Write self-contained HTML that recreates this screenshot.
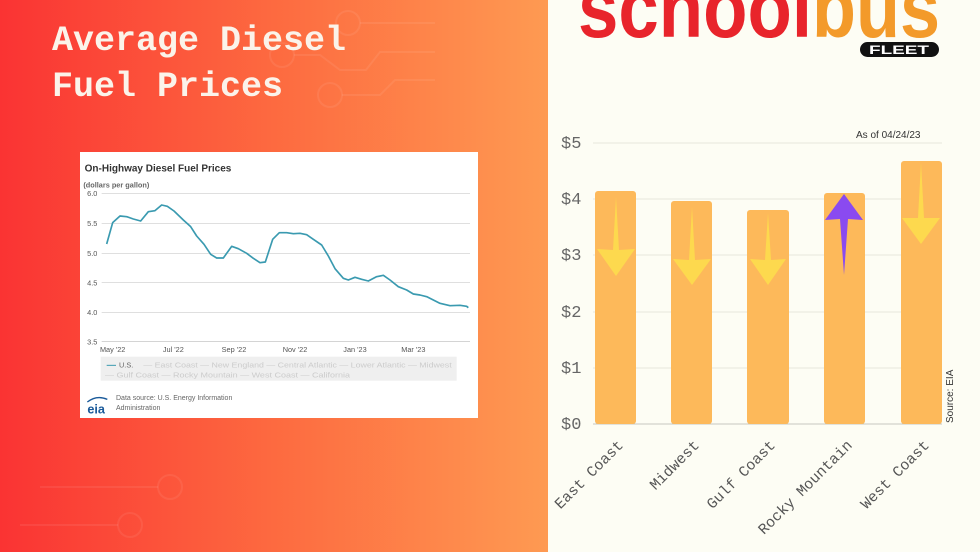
<!DOCTYPE html>
<html><head><meta charset="utf-8"><style>
body{margin:0;width:980px;height:552px;overflow:hidden;position:relative;font-family:"Liberation Sans",sans-serif}
#left{position:absolute;left:0;top:0;width:548px;height:552px;background:linear-gradient(90deg,#fa3333 0%,#fd6a40 50%,#fe9a52 100%)}
#right{position:absolute;left:548px;top:0;width:432px;height:552px;background:#fdfdf4}
</style></head><body>
<div id="left"></div><div id="right"></div>
<svg width="980" height="552" style="position:absolute;left:0;top:0">
<g stroke="#ffffff" stroke-opacity="0.07" stroke-width="2" fill="none">
<circle cx="348" cy="23" r="12"/><path d="M360 23H435"/>
<circle cx="282" cy="55" r="12"/><path d="M294 55H320L340 70H366L380 52H435"/>
<circle cx="330" cy="95" r="12"/><path d="M342 95H380L395 80H435"/>
<circle cx="170" cy="487" r="12"/><path d="M40 487H158"/>
<circle cx="130" cy="525" r="12"/><path d="M20 525H118"/>
</g>
<g font-family="Liberation Mono, monospace" fill="#fbf3ea" font-size="35" font-weight="bold">
<text x="52" y="50">Average Diesel</text>
<text x="52" y="96">Fuel Prices</text>
</g>
<!-- logo -->
<g font-family="Liberation Sans, sans-serif" font-weight="bold">
<text x="578" y="37" font-size="84" fill="#e8242b" textLength="234" lengthAdjust="spacingAndGlyphs">school</text>
<text x="812" y="37" font-size="84" fill="#f39a2a" textLength="128" lengthAdjust="spacingAndGlyphs">bus</text>
<rect x="860" y="42" width="79" height="15" rx="7.5" fill="#111"/>
<text x="899" y="54" font-size="12" fill="#fff" text-anchor="middle" textLength="60" lengthAdjust="spacingAndGlyphs">FLEET</text>
</g>
<!-- bar chart -->
<g stroke="#e6e6dc" stroke-width="1">
<path d="M593 143H942M593 199H942M593 255H942M593 312H942M593 368H942"/>
</g>
<path d="M593 424H942" stroke="#c8c8c0" stroke-width="1"/>
<g font-family="Liberation Mono, monospace" font-size="17" fill="#666">
<text x="561" y="148">$5</text><text x="561" y="204">$4</text><text x="561" y="260">$3</text><text x="561" y="317">$2</text><text x="561" y="373">$1</text><text x="561" y="429">$0</text>
</g>
<text x="856" y="138" font-size="10" fill="#333">As of 04/24/23</text>
<g fill="#fdb95a">
<rect x="595" y="191" width="41" height="233" rx="3"/>
<rect x="671" y="201" width="41" height="223" rx="3"/>
<rect x="747" y="210" width="42" height="214" rx="3"/>
<rect x="824" y="193" width="41" height="231" rx="3"/>
<rect x="901" y="161" width="41" height="263" rx="3"/>
</g>
<g fill="#fdd94e">
<path d="M616 197L619 250L635 249L616 276L597 249L613 250Z"/>
<path d="M692 207L695 260L711 259L692 285L673 259L689 260Z"/>
<path d="M768 213L771 260L786 259L768 285L750 259L765 260Z"/>
<path d="M921 163L924 218L940 218L921 244L902 218L918 218Z"/>
</g>
<path d="M844 194L863 220L848 219L844 275L840 219L825 220Z" fill="#8a4af0"/>
<text transform="translate(953,423) rotate(-90)" font-size="10" fill="#333">Source: EIA</text>
<g font-family="Liberation Mono, monospace" font-size="15" fill="#555" text-anchor="end">
<text transform="translate(624,446) rotate(-45)">East Coast</text>
<text transform="translate(700,446) rotate(-45)">Midwest</text>
<text transform="translate(776,446) rotate(-45)">Gulf Coast</text>
<text transform="translate(853,446) rotate(-45)">Rocky Mountain</text>
<text transform="translate(930,446) rotate(-45)">West Coast</text>
</g>
</svg>
<!-- EIA chart -->
<svg width="398" height="266" viewBox="0 0 1194 798" style="position:absolute;left:80px;top:152px">
<rect x="0" y="0" width="1194" height="798" fill="#fff"/>
<text x="14" y="58" font-size="30" font-weight="bold" fill="#333">On-Highway Diesel Fuel Prices</text>
<text x="10" y="106" font-size="22" font-weight="bold" fill="#666">(dollars per gallon)</text>
<g stroke="#ccc" stroke-width="2"><path d="M65 124H1170M65 214H1170M65 304H1170M65 392H1170M65 481H1170"/></g>
<path d="M65 569H1170" stroke="#bbb" stroke-width="2"/>
<g font-size="22" fill="#555" text-anchor="end">
<text x="52" y="132">6.0</text><text x="52" y="222">5.5</text><text x="52" y="312">5.0</text><text x="52" y="400">4.5</text><text x="52" y="489">4.0</text><text x="52" y="577">3.5</text>
</g>
<g font-size="22" fill="#555" text-anchor="middle">
<text x="98" y="600">May '22</text><text x="280" y="600">Jul '22</text><text x="462" y="600">Sep '22</text><text x="645" y="600">Nov '22</text><text x="825" y="600">Jan '23</text><text x="1000" y="600">Mar '23</text>
</g>
<polyline fill="none" stroke="#3a9ab0" stroke-width="5" stroke-linejoin="round" points="80,276 98,212 120,192 140,194 160,201 182,207 205,179 225,176 245,159 262,163 282,177 310,204 332,224 350,252 372,277 392,307 410,318 430,318 455,283 475,290 500,304 520,319 540,332 556,330 578,262 598,242 620,242 640,245 660,244 680,248 700,262 725,279 745,312 765,350 790,379 805,384 825,376 845,382 865,387 890,374 910,370 930,384 955,404 980,414 1000,426 1020,429 1040,434 1060,444 1080,454 1110,461 1140,460 1160,463 1165,467"/>
<rect x="62" y="614" width="1068" height="72" fill="#efefef"/>
<g font-size="22" fill="#ccc">
<path d="M80 640H108" stroke="#3a9ab0" stroke-width="3"/><text x="117" y="647" fill="#666">U.S.</text>
<text x="190" y="647" textLength="925" lengthAdjust="spacingAndGlyphs">— East Coast — New England — Central Atlantic — Lower Atlantic — Midwest</text>
<text x="75" y="676" textLength="735" lengthAdjust="spacingAndGlyphs">— Gulf Coast — Rocky Mountain — West Coast — California</text>
</g>
<text x="22" y="784" font-size="38" font-weight="bold" fill="#1a5a9a">eia</text>
<path d="M22 750Q50 728 82 742" stroke="#1a5a9a" stroke-width="4" fill="none"/>
<text x="108" y="744" font-size="21" fill="#666">Data source: U.S. Energy Information</text>
<text x="108" y="774" font-size="21" fill="#666">Administration</text>
</svg>
</body></html>
